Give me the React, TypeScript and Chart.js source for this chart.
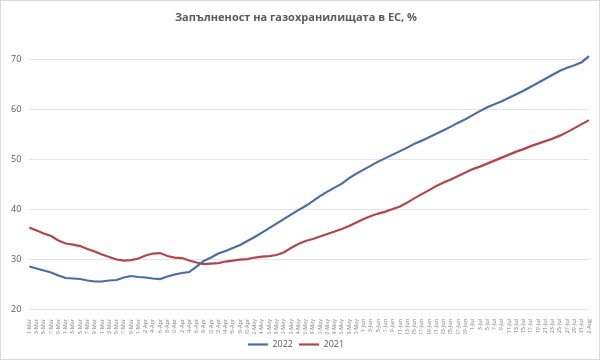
import React, { useEffect, useRef } from "react";
import { Chart, registerables } from "chart.js";

Chart.register(...registerables);

const TITLE = "Запълненост на газохранилищата в ЕС, %";

const DATES = [
  "1-Mar","3-Mar","5-Mar","7-Mar","9-Mar","11-Mar","13-Mar","15-Mar","17-Mar","19-Mar","21-Mar","23-Mar","25-Mar","27-Mar","29-Mar","31-Mar",
  "2-Apr","4-Apr","6-Apr","8-Apr","10-Apr","12-Apr","14-Apr","16-Apr","18-Apr","20-Apr","22-Apr","24-Apr","26-Apr","28-Apr","30-Apr",
  "2-May","4-May","6-May","8-May","10-May","12-May","14-May","16-May","18-May","20-May","22-May","24-May","26-May","28-May","30-May",
  "1-Jun","3-Jun","5-Jun","7-Jun","9-Jun","11-Jun","13-Jun","15-Jun","17-Jun","19-Jun","21-Jun","23-Jun","25-Jun","27-Jun","29-Jun",
  "1-Jul","3-Jul","5-Jul","7-Jul","9-Jul","11-Jul","13-Jul","15-Jul","17-Jul","19-Jul","21-Jul","23-Jul","25-Jul","27-Jul","29-Jul","31-Jul",
  "2-Aug",
];

const SERIES_2022 = [
  28.5, 28.1, 27.7, 27.3, 26.7, 26.2, 26.1, 26.0, 25.7, 25.5,
  25.5, 25.7, 25.8, 26.3, 26.6, 26.4, 26.3, 26.1, 26.0, 26.5,
  26.9, 27.2, 27.4, 28.5, 29.6, 30.3, 31.1, 31.6, 32.2, 32.8,
  33.6, 34.4, 35.3, 36.2, 37.1, 38.0, 38.9, 39.8, 40.6, 41.6,
  42.6, 43.5, 44.3, 45.1, 46.2, 47.1, 47.9, 48.7, 49.5, 50.2,
  50.9, 51.6, 52.3, 53.1, 53.7, 54.4, 55.1, 55.8, 56.5, 57.3,
  58.0, 58.8, 59.6, 60.4, 61.0, 61.6, 62.3, 63.0, 63.7, 64.5,
  65.3, 66.1, 66.9, 67.7, 68.3, 68.8, 69.4, 70.6,
];

const SERIES_2021 = [
  36.3, 35.7, 35.1, 34.6, 33.7, 33.1, 32.9, 32.6, 32.0, 31.5,
  30.9, 30.4, 29.9, 29.7, 29.8, 30.1, 30.7, 31.1, 31.2, 30.6,
  30.3, 30.2, 29.7, 29.3, 29.0, 29.1, 29.2, 29.5, 29.7, 29.9,
  30.0, 30.3, 30.5, 30.6, 30.8, 31.3, 32.2, 33.0, 33.6, 34.0,
  34.5, 35.0, 35.5, 36.0, 36.6, 37.3, 38.0, 38.6, 39.1, 39.5,
  40.0, 40.5, 41.3, 42.2, 43.0, 43.8, 44.6, 45.3, 45.9, 46.6,
  47.3, 48.0, 48.5, 49.1, 49.7, 50.3, 50.9, 51.5, 52.0, 52.6,
  53.1, 53.6, 54.1, 54.7, 55.4, 56.2, 57.0, 57.8,
];

const Y_MIN = 20;
const Y_MAX = 70;
const Y_STEP = 10;

const FONT = "'Open Sans', 'Liberation Sans', sans-serif";

export default function App() {
  const ref = useRef<HTMLCanvasElement | null>(null);

  useEffect(() => {
    document.body.style.margin = "0";
    const canvas = ref.current;
    if (!canvas) return;
    const chart = new Chart(canvas, {
      type: "line",
      data: {
        labels: DATES,
        datasets: [
          {
            label: "2022",
            data: SERIES_2022,
            borderColor: "#4d6d9e",
            backgroundColor: "#4d6d9e",
            borderWidth: 2.2,
            pointRadius: 0,
            tension: 0,
          },
          {
            label: "2021",
            data: SERIES_2021,
            borderColor: "#b0464b",
            backgroundColor: "#b0464b",
            borderWidth: 2.2,
            pointRadius: 0,
            tension: 0,
          },
        ],
      },
      options: {
        responsive: false,
        animation: false,
        clip: false,
        layout: { padding: { left: 2, right: 10, top: 0, bottom: 0 } },
        plugins: {
          title: {
            display: true,
            text: TITLE,
            color: "#595959",
            font: { family: FONT, size: 11, weight: "bold" },
            padding: { top: 10, bottom: 35 },
          },
          legend: {
            position: "bottom",
            labels: {
              usePointStyle: true,
              pointStyle: "line",
              pointStyleWidth: 20,
              color: "#595959",
              font: { family: FONT, size: 9 },
              padding: 6,
              boxHeight: 8,
            },
          },
          tooltip: { enabled: false },
        },
        scales: {
          x: {
            grid: { display: false },
            border: { display: false },
            afterFit: (scale: any) => {
              scale.height = 25;
            },
            ticks: {
              autoSkip: false,
              minRotation: 90,
              maxRotation: 90,
              color: "#7f7f7f",
              font: { family: FONT, size: 5.5 },
              padding: 2,
            },
          },
          y: {
            min: Y_MIN,
            max: Y_MAX,
            grid: { color: "#e3e3e3", drawTicks: false },
            border: { display: false },
            ticks: {
              stepSize: Y_STEP,
              color: "#595959",
              font: { family: FONT, size: 9 },
              padding: 8,
            },
          },
        },
      },
    });
    return () => chart.destroy();
  }, []);

  return (
    <div
      style={{
        position: "relative",
        width: 600,
        height: 360,
        boxSizing: "border-box",
        border: "1px solid #d9d9d9",
        background: "#fff",
        overflow: "hidden",
      }}
    >
      <canvas ref={ref} width={598} height={358} style={{ display: "block" }} />
    </div>
  );
}
